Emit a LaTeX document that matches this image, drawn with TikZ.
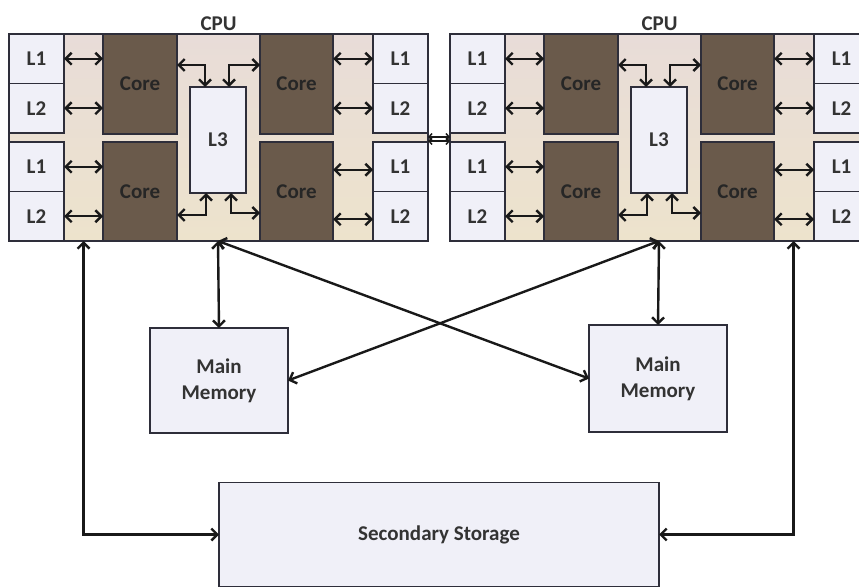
\documentclass[tikz,border=0pt]{standalone}
\usepackage{fontspec}
\setmainfont{Carlito}
\usepackage{tikz}
\usetikzlibrary{positioning,arrows.meta}
\usepackage{xcolor}
\definecolor{coreclr}{HTML}{6A5A4B}
\definecolor{cacheclr}{HTML}{F0F0F8}
\definecolor{dietop}{HTML}{E8DCD8}
\definecolor{diebot}{HTML}{EDE3CC}
\definecolor{edgeclr}{HTML}{2E2E3A}

\begin{document}
\begin{tikzpicture}[x=1pt,y=-1pt,
font=\fontsize{21}{26}\selectfont\bfseries,
die/.style={rectangle,draw=edgeclr,line width=1.5pt,top color=dietop,bottom color=diebot,outer sep=0pt,inner sep=0pt,minimum width=419pt,minimum height=207pt},
cache/.style={rectangle,draw=edgeclr,line width=1.2pt,fill=cacheclr,outer sep=0pt,inner sep=0pt,minimum width=55pt,minimum height=49.5pt,text=black!80},
core/.style={rectangle,draw=edgeclr,line width=1.2pt,fill=coreclr,outer sep=0pt,inner sep=0pt,minimum height=100pt,text=black!85},
mem/.style={rectangle,draw=edgeclr,line width=1.5pt,fill=cacheclr,outer sep=0pt,align=center,minimum width=138pt,text=black!80},
arrow/.style={{Straight Barb[length=6pt,width=12pt]}-{Straight Barb[length=6pt,width=12pt]},line width=2.4pt,black!90},
smallarrow/.style={{Straight Barb[length=3pt,width=7pt]}-{Straight Barb[length=3pt,width=7pt]},line width=1.5pt,black!90}]
\clip (0,0) rectangle (859,588);
\foreach \c/\dx in {a/0,b/441}{
\begin{scope}[xshift=\dx pt]
\node[die,anchor=north west](\c-die) at (9,34){};
\node[above=3pt of \c-die.north,inner sep=0pt,text=black!80](\c-cpu){CPU};
% caches on the left side
\node[cache,anchor=north west](\c-lt1) at (9,34){L1};
\node[cache,below=0pt of \c-lt1](\c-lt2){L2};
\node[cache,anchor=north west](\c-lb1) at (9,142){L1};
\node[cache,below=0pt of \c-lb1](\c-lb2){L2};
% caches on the right side
\node[cache,anchor=north east](\c-rt1) at (428,34){L1};
\node[cache,below=0pt of \c-rt1](\c-rt2){L2};
\node[cache,anchor=north east](\c-rb1) at (428,142){L1};
\node[cache,below=0pt of \c-rb1](\c-rb2){L2};
% cores
\node[core,minimum width=74pt,anchor=north west](\c-ctl) at (103,34){Core};
\node[core,minimum width=74pt,minimum height=99pt,anchor=south west](\c-cbl) at (103,241){Core};
\node[core,minimum width=73pt,anchor=north west](\c-ctr) at (260,34){Core};
\node[core,minimum width=73pt,minimum height=99pt,anchor=south west](\c-cbr) at (260,241){Core};
\node[cache,minimum width=56pt,minimum height=106pt](\c-l3) at (218,140){L3};
\coordinate(\c-sl) at (83.5,241);
\coordinate(\c-sr) at (352.5,241);
\draw[arrow](\c-lt1.east)--(\c-lt1.east -| \c-ctl.west);
\draw[arrow](\c-lt2.east)--(\c-lt2.east -| \c-ctl.west);
\draw[arrow](\c-lb1.east)--(\c-lb1.east -| \c-cbl.west);
\draw[arrow](\c-lb2.east)--(\c-lb2.east -| \c-cbl.west);
\draw[arrow](\c-rt1.west -| \c-ctr.east)--(\c-rt1.west);
\draw[arrow](\c-rt2.west -| \c-ctr.east)--(\c-rt2.west);
\draw[arrow]([yshift=-3pt]\c-rb1.west -| \c-cbr.east)--([yshift=-3pt]\c-rb1.west);
\draw[arrow]([yshift=-3pt]\c-rb2.west -| \c-cbr.east)--([yshift=-3pt]\c-rb2.west);
\draw[arrow]([yshift=-31pt]\c-ctl.north east)-|([xshift=-13pt]\c-l3.north);
\draw[arrow]([yshift=-31pt]\c-ctr.north west)-|([xshift=11pt]\c-l3.north);
\draw[arrow]([yshift=26pt]\c-cbl.south east)-|([xshift=-12pt]\c-l3.south);
\draw[arrow]([yshift=28pt]\c-cbr.south west)-|([xshift=13pt]\c-l3.south);
\end{scope}
}
\node[mem,minimum height=105pt](mema) at (219,380.5){Main\\Memory};
\node[mem,minimum height=107pt](memb) at (658,378.5){Main\\Memory};
\node[mem,minimum width=440pt,minimum height=104pt](store) at (439,534.5){Secondary Storage};
\draw[smallarrow]([yshift=-4pt]a-rt2.south east)--([yshift=-4pt]b-lt2.south west);
\draw[smallarrow]([yshift=1pt]a-rb1.north east)--([yshift=1pt]b-lb1.north west);
\draw[arrow](a-l3.center |- a-die.south)--(mema.north);
\draw[arrow](b-l3.center |- b-die.south)--(memb.north);
\draw[arrow](a-l3.center |- a-die.south)--(memb.west);
\draw[arrow](b-l3.center |- b-die.south)--(mema.east);
\draw[arrow](a-sl)|-(store.west);
\draw[arrow](b-sr)|-(store.east);
\end{tikzpicture}
\end{document}
